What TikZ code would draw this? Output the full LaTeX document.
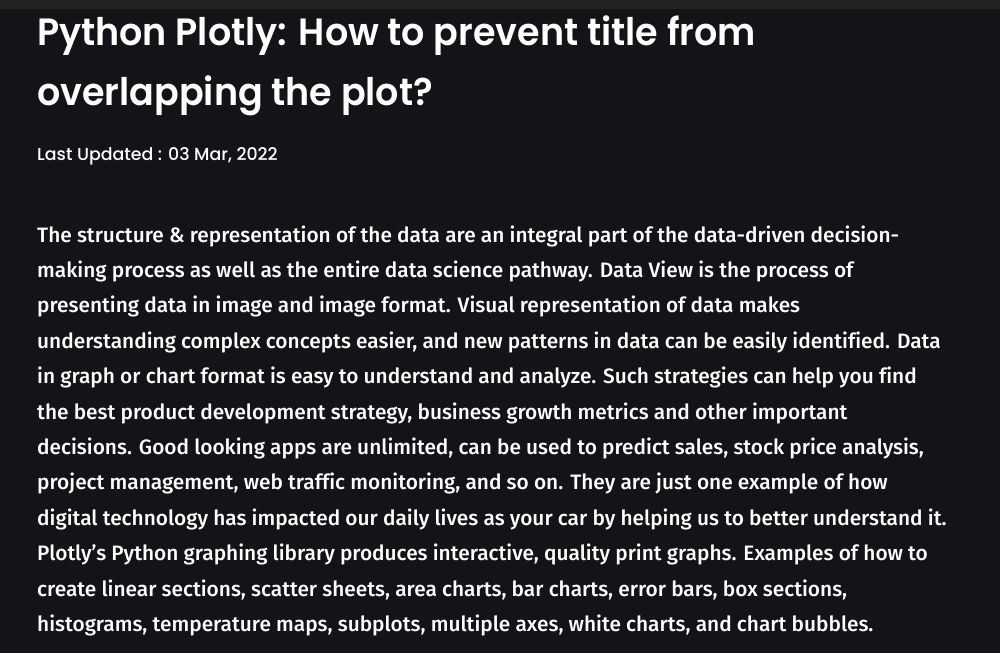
\documentclass[tikz,border=0pt]{standalone}
\usepackage{fontspec}
\setmainfont{Fira Sans}
\newfontfamily\titlefont{Poppins}[UprightFont={* SemiBold},FakeStretch=0.96]
\newfontfamily\metafont{Poppins}[UprightFont={* Medium},FakeStretch=1.0]
\newfontfamily\bodyfont{Fira Sans}[UprightFont={* Medium},Ligatures=NoCommon]
\definecolor{pagebg}{HTML}{131418}
\definecolor{topbar}{HTML}{232323}
\definecolor{txt}{HTML}{FFFFFF}
\begin{document}
\begin{tikzpicture}[x=1pt,y=-1pt,
  ttl/.style={anchor=base west,inner sep=0pt,text=txt,font=\titlefont\fontsize{38}{38}\selectfont},
  meta/.style={anchor=base west,inner sep=0pt,text=txt,font=\metafont\fontsize{17.4}{17.4}\selectfont},
  body/.style={anchor=base west,inner sep=0pt,text=txt,font=\bodyfont\fontsize{20.85}{20.85}\selectfont}]
\fill[pagebg] (0,0) rectangle (1000,653);
\useasboundingbox (0,0) rectangle (1000,653);
\fill[topbar] (0,0) rectangle (1000,9);
\node[ttl] (t1) at (37,45) {Python Plotly: How to prevent title from};
\node[ttl] (t2) at (37,105) {overlapping the plot?};
\node[meta] (m) at (37,160) {Last Updated : 03 Mar, 2022};
\node[body] (l1) at (37,242.0) {The structure \& representation of the data are an integral part of the data-driven decision-};
\node[body] (l2) at (37,277.4) {making process as well as the entire data science pathway. Data View is the process of};
\node[body] (l3) at (37,312.8) {presenting data in image and image format. Visual representation of data makes};
\node[body] (l4) at (37,348.2) {understanding complex concepts easier, and new patterns in data can be easily identified. Data};
\node[body] (l5) at (37,383.6) {in graph or chart format is easy to understand and analyze. Such strategies can help you find};
\node[body] (l6) at (37,419.0) {the best product development strategy, business growth metrics and other important};
\node[body] (l7) at (37,454.4) {decisions. Good looking apps are unlimited, can be used to predict sales, stock price analysis,};
\node[body] (l8) at (37,489.8) {project management, web traffic monitoring, and so on. They are just one example of how};
\node[body] (l9) at (37,525.2) {digital technology has impacted our daily lives as your car by helping us to better understand it.};
\node[body] (l10) at (37,560.6) {Plotly’s Python graphing library produces interactive, quality print graphs. Examples of how to};
\node[body] (l11) at (37,596.0) {create linear sections, scatter sheets, area charts, bar charts, error bars, box sections,};
\node[body] (l12) at (37,631.4) {histograms, temperature maps, subplots, multiple axes, white charts, and chart bubbles.};
\end{tikzpicture}
\end{document}
